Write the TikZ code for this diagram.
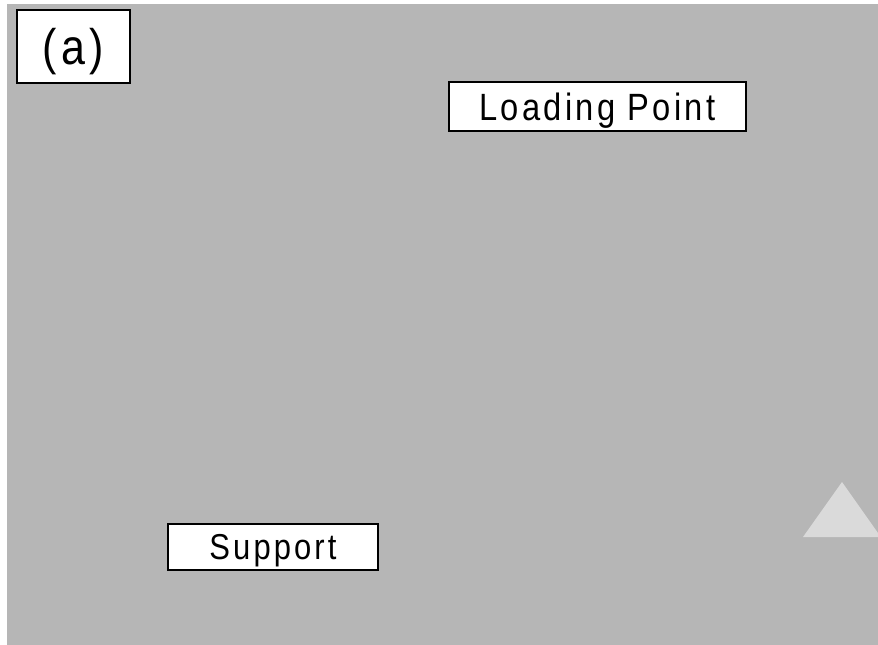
\documentclass[tikz,border=0pt]{standalone}
\usepackage{fontspec}
\setmainfont{Liberation Sans}
\newfontfamily\labelfont[LetterSpace=10]{Liberation Sans}
\usepackage{tikz}
\usetikzlibrary{positioning, calc, shapes}

\definecolor{panelgray}{RGB}{182,182,182}
\definecolor{supportgray}{RGB}{218,218,218}
\newcommand{\narrowtext}[1]{\scalebox{0.86}[1]{#1}}

\begin{document}
\begin{tikzpicture}[x=1pt, y=-1pt,
		labelbox/.style = {draw=black, line width=2.8pt, fill=white, inner sep=0pt,
			text height=27.2pt, text depth=0pt,
			font=\labelfont\fontsize{38}{44}\selectfont}]
						\useasboundingbox (0,0) rectangle (878,645);
						\fill[panelgray] (7,4) rectangle (878,645);
						% support triangle, cut at the right edge
						\fill[supportgray] (842,482) -- (803,537) -- (878,537) -- (878,533) -- cycle;
						\node[labelbox, minimum width=113pt, minimum height=73pt, text height=35.8pt,
							font=\labelfont\fontsize{50}{56}\selectfont] (panel) at (73.5,46.5) {\narrowtext{(a)}};
						\node[labelbox, minimum width=297pt, minimum height=49pt] (load) at (597.5,106.5) {\narrowtext{Loading Point}};
						\node[labelbox, minimum width=210pt, minimum height=46pt, text height=25.8pt,
							font=\labelfont\fontsize{36}{42}\selectfont] (support) at (273,547) {\narrowtext{Support}};
				\end{tikzpicture}
\end{document}
